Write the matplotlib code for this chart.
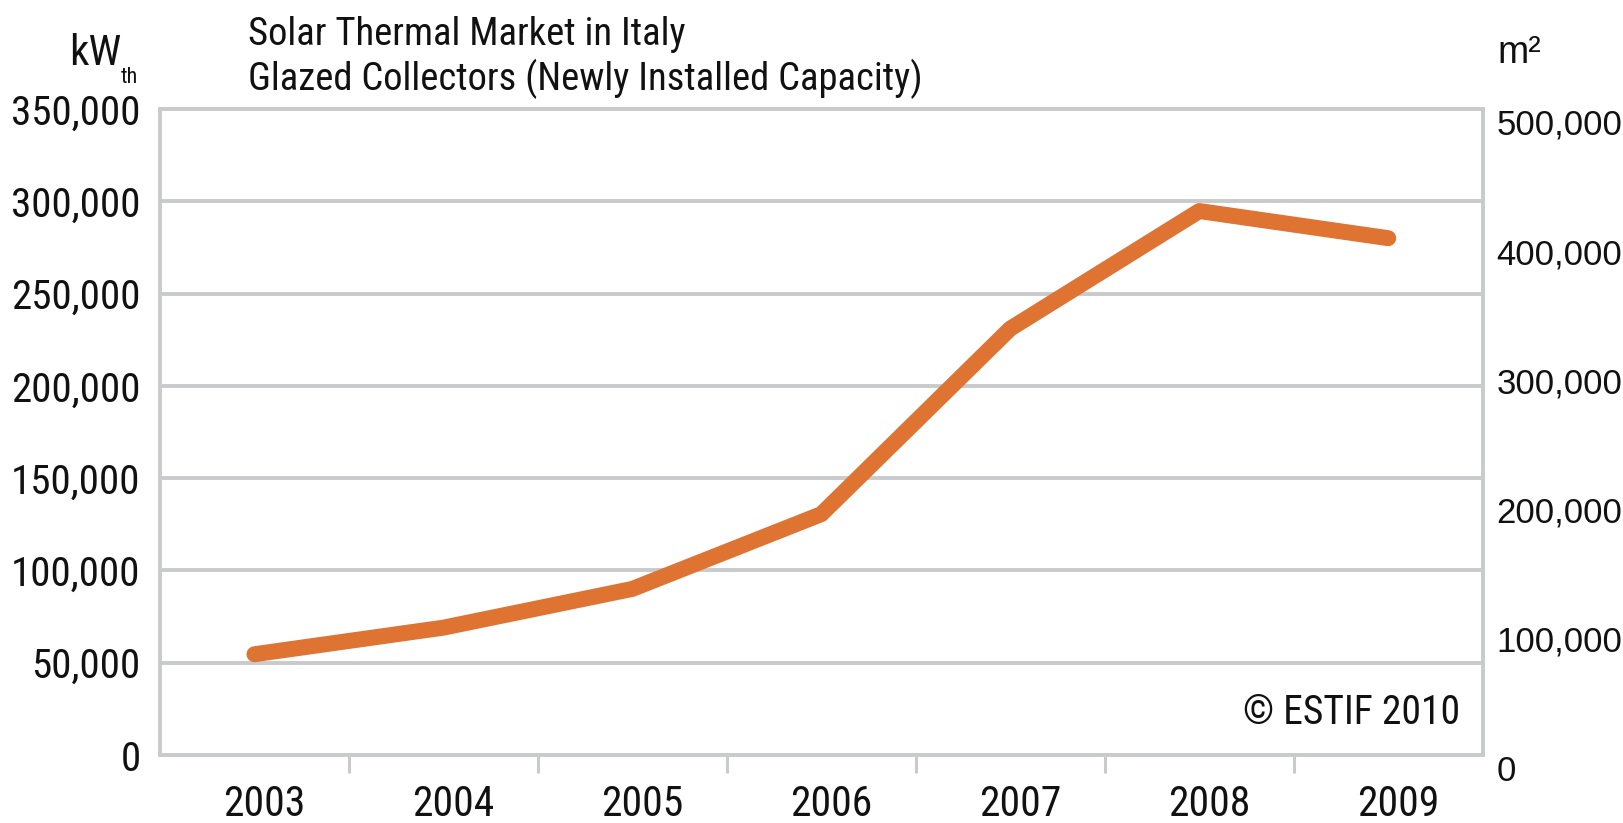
import matplotlib
matplotlib.use("Agg")
import matplotlib.pyplot as plt
from matplotlib.ticker import FuncFormatter, FixedLocator
from matplotlib.transforms import ScaledTranslation

years = ["2003", "2004", "2005", "2006", "2007", "2008", "2009"]
capacity_kwth = [54600, 69000, 90000, 130500, 231000, 294700, 280000]
left_ticks = [0, 50000, 100000, 150000, 200000, 250000, 300000, 350000]
right_ticks = [0, 100000, 200000, 300000, 400000, 500000]

GRID = "#C8CACB"
ORANGE = "#DF7332"
TXT = "#111111"
NARROW = ["Roboto Condensed", "Archivo Narrow", "PT Sans Narrow",
          "IBM Plex Sans Condensed", "DejaVu Sans"]
REG = ["Liberation Sans", "DejaVu Sans"]

fig = plt.figure(figsize=(16.24, 8.23), dpi=100)
ax = fig.add_axes([0.0985, 0.0826, 0.8145, 0.785])

x = list(range(len(years)))
ax.plot(x, capacity_kwth, color=ORANGE, lw=11.5, solid_capstyle="round",
        solid_joinstyle="round", zorder=3)

ax.set_xlim(-0.5, len(years) - 0.5)
ax.set_ylim(0, 350000)
ax.set_yticks(left_ticks)
ax.yaxis.set_major_formatter(FuncFormatter(lambda v, p: f"{int(v):,}"))
ax.grid(axis="y", color=GRID, lw=2.8, zorder=1)
ax.set_axisbelow(True)

for s in ["left", "bottom", "right", "top"]:
    ax.spines[s].set_color(GRID)
    ax.spines[s].set_linewidth(2.8)

ax.set_xticks(x)
ax.set_xticklabels(years)
ax.tick_params(axis="x", which="major", length=0, pad=21)
ax.xaxis.set_minor_locator(FixedLocator([i + 0.5 for i in range(len(years) - 1)]))
ax.tick_params(axis="x", which="minor", length=13, width=2.2, color=GRID, direction="out")
ax.tick_params(axis="y", length=0, pad=14)

shift = ScaledTranslation(10 / 100, 0, fig.dpi_scale_trans)
for lab in ax.get_xticklabels():
    lab.set_fontfamily(NARROW)
    lab.set_fontsize(30)
    lab.set_color(TXT)
    lab.set_transform(lab.get_transform() + shift)
for lab in ax.get_yticklabels():
    lab.set_fontfamily(NARROW)
    lab.set_fontsize(29.5)
    lab.set_color(TXT)

ax2 = ax.twinx()
ax2.set_ylim(0, 500000)
ax2.set_yticks(right_ticks)
ax2.yaxis.set_major_formatter(FuncFormatter(lambda v, p: f"{int(v):,}"))
ax2.tick_params(axis="y", length=0, pad=10)
for s in ["left", "bottom", "right", "top"]:
    ax2.spines[s].set_visible(False)
for lab in ax2.get_yticklabels():
    lab.set_fontfamily(REG)
    lab.set_fontsize(25)
    lab.set_va("top")
    lab.set_color(TXT)

fig.text(0.153, 0.958, "Solar Thermal Market in Italy", fontfamily=NARROW,
         fontsize=27.8, va="center", ha="left", color=TXT)
fig.text(0.153, 0.904, "Glazed Collectors (Newly Installed Capacity)", fontfamily=NARROW,
         fontsize=27.8, va="center", ha="left", color=TXT)
fig.text(0.0745, 0.935, "kW", fontfamily=NARROW,
         fontsize=31, va="center", ha="right", color=TXT)
fig.text(0.0745, 0.906, "th", fontfamily=NARROW,
         fontsize=16, va="center", ha="left", color=TXT)
fig.text(0.922, 0.935, "m²", fontfamily=REG,
         fontsize=27, va="center", ha="left", color=TXT)
ax.text(0.983, 0.066, "© ESTIF 2010", transform=ax.transAxes, fontfamily=NARROW,
        fontsize=28.5, va="center", ha="right", color=TXT)

fig.savefig("out.png", dpi=100)
